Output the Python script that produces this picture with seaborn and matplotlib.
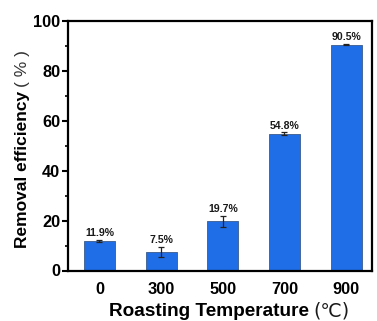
import matplotlib
matplotlib.use("Agg")
import matplotlib.pyplot as plt
import seaborn as sns
import pandas as pd
from matplotlib.ticker import MultipleLocator

temperatures = ["0", "300", "500", "700", "900"]
efficiency = [11.9, 7.5, 19.7, 54.8, 90.5]
errors = [0.3, 2.0, 2.1, 0.6, 0.3]
value_labels = ["11.9%", "7.5%", "19.7%", "54.8%", "90.5%"]

sns.set_theme(style="ticks")
plt.rcParams["font.family"] = ["Liberation Sans", "DejaVu Sans"]
plt.rcParams["text.color"] = "black"
plt.rcParams["axes.labelcolor"] = "black"
plt.rcParams["xtick.color"] = "black"
plt.rcParams["ytick.color"] = "black"

df = pd.DataFrame({"Temperature": temperatures, "Efficiency": efficiency})

W, H = 377, 321
fig, ax = plt.subplots(figsize=(W / 100, H / 100), dpi=100)
fig.subplots_adjust(left=68 / W, right=372 / W, top=1 - 21 / H, bottom=1 - 270.5 / H)

sns.barplot(data=df, x="Temperature", y="Efficiency", color="#1f6ee8",
            saturation=1, width=0.5, edgecolor="#3a5a8a", linewidth=0.6,
            errorbar=None, ax=ax)
xs = list(range(len(temperatures)))
ax.errorbar(xs, efficiency, yerr=errors, fmt="none", ecolor="#222222",
            elinewidth=0.9, capsize=2.0, capthick=0.9, zorder=3)
for i, (v, e, lab) in enumerate(zip(efficiency, errors, value_labels)):
    ax.annotate(lab, (i, v + e), xytext=(0, 1.2), textcoords="offset points",
                ha="center", va="bottom", fontsize=7.6, fontweight="bold",
                color="#1a1a1a")

ax.set_ylim(0, 100)
ax.set_xlim(-0.51, 4.42)
ax.yaxis.set_major_locator(MultipleLocator(20))
ax.yaxis.set_minor_locator(MultipleLocator(10))
ax.tick_params(axis="y", which="major", length=4, width=1.5, direction="out",
               labelsize=11.8, pad=1.5)
ax.tick_params(axis="y", which="minor", length=2, width=1.2, direction="out")
ax.tick_params(axis="x", which="both", length=0, labelsize=11.8, pad=8)
for lab in ax.get_xticklabels() + ax.get_yticklabels():
    lab.set_fontweight("bold")

for s in ax.spines.values():
    s.set_visible(True)
    s.set_linewidth(1.6)
    s.set_color("black")

ax.set_xlabel("")
ax.set_ylabel("")

# Axis titles: bold words followed by a lighter unit part
fig.canvas.draw()
renderer = fig.canvas.get_renderer()

yl = fig.text(23 / W, 73 / H, "Removal efficiency", rotation=90,
              ha="center", va="bottom", fontsize=12.5, fontweight="bold")
ext = yl.get_window_extent(renderer)
fig.text(ext.x0 / W, (ext.y1 + 4) / H, "( % )", rotation=90, ha="left",
         va="bottom", fontsize=12.5, color="#333333")

xl = fig.text(109 / W, 4.5 / H, "Roasting Temperature", ha="left",
              va="baseline", fontsize=13.7, fontweight="bold")
ext = xl.get_window_extent(renderer)
fig.text((ext.x1 + 4) / W, 4.5 / H, "(℃)", ha="left", va="baseline",
         fontsize=13.7, family=["DejaVu Sans"], color="#1a1a1a")

fig.savefig("out.png", dpi=100)
